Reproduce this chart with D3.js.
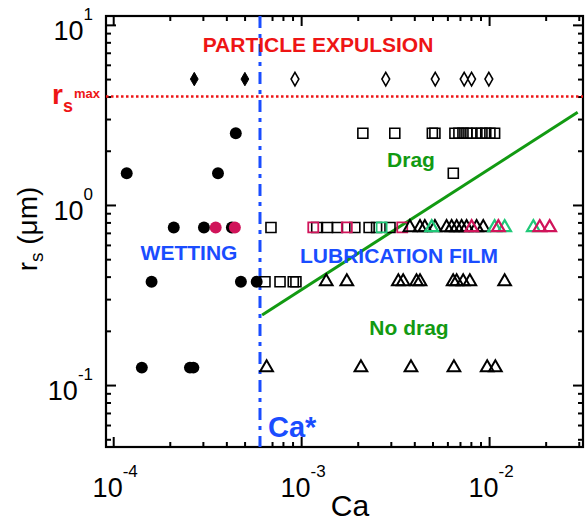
<!DOCTYPE html>
<html><head><meta charset="utf-8">
<script src="https://cdn.jsdelivr.net/npm/d3@7"></script>
<style>body{margin:0;background:#fff}svg{display:block;font-family:"Liberation Sans",Arial,sans-serif}</style>
</head><body><svg id="c" width="587" height="525"></svg>
<script>
// ---- data (Ca, r_s in µm) ----
const wettingBlack = [[1.18e-4,1.5],[3.61e-4,1.5],[4.49e-4,2.5],[2.1e-4,0.75],[3.04e-4,0.75],[4.28e-4,0.75],
  [1.6e-4,0.375],[4.78e-4,0.375],[5.8e-4,0.375],[1.42e-4,0.125],[2.56e-4,0.125],[2.67e-4,0.125]];
const wettingRed = [[3.51e-4,0.75],[4.44e-4,0.75]];
const expulsionFilled = [[2.7e-4,5],[5.02e-4,5]];
const expulsionOpen = [[9.27e-4,5],[2.82e-3,5],[5.17e-3,5],[7.37e-3,5],[8.07e-3,5],[9.97e-3,5]];
const dragSquares = [[2.13e-3,2.5],[3.15e-3,2.5],[4.99e-3,2.5],[5.15e-3,2.5],[6.58e-3,2.5],[6.91e-3,2.5],[7.26e-3,2.5],
  [7.62e-3,2.5],[8.0e-3,2.5],[8.61e-3,2.5],[9.16e-3,2.5],[9.6e-3,2.5],[1.01e-2,2.5],[1.07e-2,2.5],[6.45e-3,1.5],
  [6.91e-4,0.75],[1.21e-3,0.75],[1.38e-3,0.75],[1.56e-3,0.75],[1.93e-3,0.75],[2.30e-3,0.75],[2.52e-3,0.75],[2.97e-3,0.75],
  [6.42e-4,0.375],[7.72e-4,0.375],[9.08e-4,0.375],[9.38e-4,0.375]];
const dragSquaresRed = [[1.16e-3,0.75],[1.75e-3,0.75],[3.45e-3,0.75]];
const dragSquaresGreen = [[2.68e-3,0.75]];
const noDragTriangles = [[3.79e-3,0.75],[4.29e-3,0.75],[4.55e-3,0.75],[5.15e-3,0.75],[5.94e-3,0.75],[6.32e-3,0.75],[6.72e-3,0.75],
  [7.14e-3,0.75],[7.59e-3,0.75],[8.58e-3,0.75],[9.31e-3,0.75],
  [1.36e-3,0.375],[1.75e-3,0.375],[3.29e-3,0.375],[3.49e-3,0.375],[4.11e-3,0.375],[4.29e-3,0.375],[6.44e-3,0.375],
  [6.72e-3,0.375],[7.28e-3,0.375],[7.9e-3,0.375],[1.21e-2,0.375],
  [6.55e-4,0.125],[2.08e-3,0.125],[3.84e-3,0.125],[6.5e-3,0.125],[9.77e-3,0.125],[1.08e-2,0.125]];
const noDragTrianglesGreen = [[4.95e-3,0.75],[1.07e-2,0.75],[1.21e-2,0.75],[1.72e-2,0.75]];
const noDragTrianglesRed = [[8.07e-3,0.75],[1.12e-2,0.75],[1.86e-2,0.75],[2.1e-2,0.75]];
const dragLine = [[6.2e-4,0.245],[2.96e-2,3.27]];
const caStar = 6.04e-4;
const rsMax = 4;
const xDomain = [9.155e-5, 0.0316];
const yDomain = [0.0453, 11.2];
const xMajor = [1e-4,1e-3,1e-2], xMajorExp = ["-4","-3","-2"];
const yMajor = [0.1,1,10], yMajorExp = ["-1","0","1"];

// ---- layout ----
const L=106, R=583, T=16, B=447;
const svg = d3.select("#c");
const x = d3.scaleLog().domain(xDomain).range([L,R]);
const y = d3.scaleLog().domain(yDomain).range([B,T]);
const RED="#ee1515", BLUE="#1a4dff", GREEN="#129a12", MRED="#d0145a", MGREEN="#20c878";

function minors(dom, majors){ return d3.scaleLog().domain(dom).ticks().filter(v=>!majors.some(m=>Math.abs(v/m-1)<1e-6)); }
const xMinor = minors(xDomain,xMajor), yMinor = minors(yDomain,yMajor);

function axis(gen, pos, vals, len){
  const g = svg.append("g").attr("transform",pos).call(gen.tickValues(vals).tickSize(-len).tickSizeOuter(0).tickFormat(""));
  g.select(".domain").remove();
  g.selectAll("line").attr("stroke","#000").attr("stroke-width",2);
}
axis(d3.axisBottom(x),`translate(0,${B})`,xMajor,10); axis(d3.axisBottom(x),`translate(0,${B})`,xMinor,5);
axis(d3.axisTop(x),`translate(0,${T})`,xMajor,10); axis(d3.axisTop(x),`translate(0,${T})`,xMinor,5);
axis(d3.axisLeft(y),`translate(${L},0)`,yMajor,10); axis(d3.axisLeft(y),`translate(${L},0)`,yMinor,5);
axis(d3.axisRight(y),`translate(${R},0)`,yMajor,10); axis(d3.axisRight(y),`translate(${R},0)`,yMinor,5);
svg.append("rect").attr("x",L).attr("y",T).attr("width",R-L).attr("height",B-T).attr("fill","none").attr("stroke","#000").attr("stroke-width",2.2);

// tick labels
xMajor.forEach((v,i)=>{
  const t = svg.append("text").attr("x",x(v)+2).attr("y",497).attr("text-anchor","middle").attr("font-size",27);
  t.append("tspan").text("10");
  t.append("tspan").attr("font-size",17).attr("dy",-20).text(xMajorExp[i]);
});
yMajor.forEach((v,i)=>{
  const t = svg.append("text").attr("x",93).attr("y",y(v)+15).attr("text-anchor","end").attr("font-size",27);
  t.append("tspan").text("10");
  t.append("tspan").attr("font-size",17).attr("dy",-20).text(yMajorExp[i]);
});
// axis titles
svg.append("text").attr("x",350).attr("y",516).attr("text-anchor","middle").attr("font-size",30).text("Ca");
const yl = svg.append("text").attr("transform","translate(37,229) rotate(-90)").attr("text-anchor","middle").attr("font-size",28);
yl.append("tspan").text("r");
yl.append("tspan").attr("font-size",19).attr("dy",6).text("s");
yl.append("tspan").attr("dy",-6).text(" (μm)");

// reference lines
svg.append("line").attr("x1",L).attr("x2",R).attr("y1",y(rsMax)).attr("y2",y(rsMax))
  .attr("stroke",RED).attr("stroke-width",2.5).attr("stroke-dasharray","2.5,2.5");
svg.append("line").attr("x1",x(caStar)).attr("x2",x(caStar)).attr("y1",T).attr("y2",B)
  .attr("stroke",BLUE).attr("stroke-width",3).attr("stroke-dasharray","12,6,4,6");
svg.append("path").attr("d",d3.line().x(d=>x(d[0])).y(d=>y(d[1]))(dragLine))
  .attr("stroke",GREEN).attr("stroke-width",3).attr("fill","none");

// markers
function pts(data, sym, size, fill, stroke, sw){
  svg.append("g").selectAll("path").data(data).join("path")
    .attr("transform",d=>`translate(${x(d[0])},${y(d[1])})`)
    .attr("d",d3.symbol().type(sym).size(size))
    .attr("fill",fill).attr("stroke",stroke).attr("stroke-width",sw);
}
pts(wettingBlack,d3.symbolCircle,112,"#000","none",0);
pts(wettingRed,d3.symbolCircle,112,MRED,"none",0);
pts(expulsionFilled,d3.symbolDiamond,52,"#000","#000",1);
pts(expulsionOpen,d3.symbolDiamond,52,"#fff","#000",1.6);
pts(dragSquares,d3.symbolSquare,100,"none","#000",1.6);
pts(dragSquaresRed,d3.symbolSquare,100,"none",MRED,1.8);
pts(dragSquaresGreen,d3.symbolSquare,100,"none",MGREEN,1.8);
pts(noDragTriangles,d3.symbolTriangle,70,"none","#000",2);
pts(noDragTrianglesGreen,d3.symbolTriangle,70,"none",MGREEN,2.2);
pts(noDragTrianglesRed,d3.symbolTriangle,70,"none",MRED,2.2);

// region labels
function lab(txt,cx,by,col,fs,anchor){ return svg.append("text").attr("x",cx).attr("y",by).attr("text-anchor",anchor||"middle")
  .attr("font-size",fs).attr("font-weight","bold").attr("fill",col).text(txt); }
lab("PARTICLE EXPULSION",318,52,RED,21);
lab("Drag",411,167,GREEN,21);
lab("WETTING",189,260,BLUE,21);
lab("LUBRICATION FILM",399,263,BLUE,21);
lab("No drag",409,335,GREEN,21);
lab("Ca*",268,437,BLUE,29,"start");
const rm = svg.append("text").attr("x",52).attr("y",104).attr("font-weight","bold").attr("fill",RED).attr("font-size",28);
rm.append("tspan").text("r");
rm.append("tspan").attr("font-size",18).attr("dy",8).text("s");
rm.append("tspan").attr("font-size",13).attr("dy",-14).attr("dx",1).text("max");
</script></body></html>
